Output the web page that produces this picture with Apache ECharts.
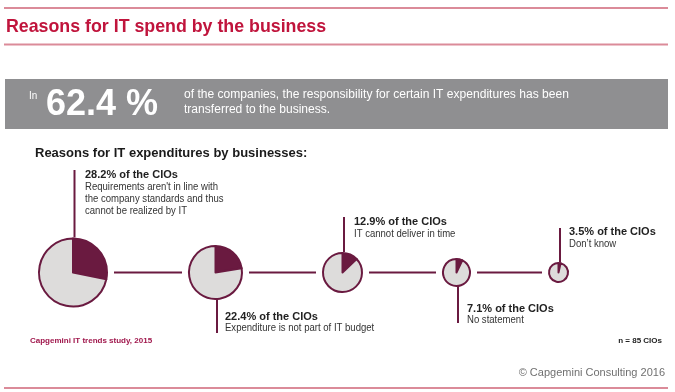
<!DOCTYPE html>
<html>
<head>
<meta charset="utf-8">
<script src="https://cdn.jsdelivr.net/npm/echarts@6/dist/echarts.min.js"></script>
<style>
html,body{margin:0;padding:0;background:#fff;}
#chart{width:675px;height:392px;}
</style>
</head>
<body>
<div id="chart"></div>
<script>
// ---- data ----
const titleText = "Reasons for IT spend by the business";
const headlinePrefix = "In";
const headlineValue = 62.4;
const headlineText = ["of the companies, the responsibility for certain IT expenditures has been", "transferred to the business."];
const subtitleText = "Reasons for IT expenditures by businesses:";
const categories = [
  ["Requirements aren't in line with", "the company standards and thus", "cannot be realized by IT"],
  ["Expenditure is not part of IT budget"],
  ["IT cannot deliver in time"],
  ["No statement"],
  ["Don\u2019t know"]
];
const shares = [28.2, 22.4, 12.9, 7.1, 3.5];
const sourceText = "Capgemini IT trends study, 2015";
const sampleText = "n = 85 CIOs";
const copyrightText = "\u00a9 Capgemini Consulting 2016";

// ---- layout (positions / sizes / styles) ----
const pieX = [73, 215.5, 342.5, 456.5, 558.5];
const pieY = 272.5;
const pieR = [34, 26.5, 19.5, 13.5, 9.5];
const labelAbove = [true, false, true, false, true];
const MAROON = '#6a1a40';
const GRAYFILL = '#dddcdb';
const FONT = "'Liberation Sans', Arial, sans-serif";

const chart = echarts.init(document.getElementById('chart'), null, {renderer: 'canvas'});

const graphics = [];
function line(x1, y1, x2, y2, color, w) {
  graphics.push({type: 'line', shape: {x1, y1, x2, y2}, style: {stroke: color, lineWidth: w}, silent: true});
}
function text(str, x, y, font, fill, align, sx) {
  graphics.push({type: 'text', x, y, scaleX: sx || 1, style: {text: str, font, fill, textAlign: align || 'left', textVerticalAlign: 'middle'}, silent: true});
}

// header rules + title
line(4, 8, 668, 8, '#db8b99', 2);
line(4, 44.5, 668, 44.5, '#db8b99', 2);
text(titleText, 6, 27, "bold 17.8px " + FONT, '#c0143c');

// banner
graphics.push({type: 'rect', shape: {x: 5, y: 79, width: 663, height: 50}, style: {fill: '#8f8f91'}, silent: true});
text(headlinePrefix, 29, 96, "11px " + FONT, '#ffffff', 'left', 0.9);
text(headlineValue.toFixed(1) + " %", 46, 105, "bold 36px " + FONT, '#ffffff');
text(headlineText[0], 184, 94.5, "12.5px " + FONT, '#ffffff', 'left', 0.965);
text(headlineText[1], 184, 109.5, "12.5px " + FONT, '#ffffff', 'left', 0.965);

// subtitle
text(subtitleText, 35, 153, "bold 13px " + FONT, '#1a1a1a');

// connectors between pies
for (let i = 0; i < pieX.length - 1; i++) {
  line(pieX[i] + pieR[i] + 7, pieY, pieX[i + 1] - pieR[i + 1] - 7, pieY, MAROON, 2);
}

// leader lines + labels
const labelTop = [175, 316.5, 222, 308.5, 232];
const lineEnd = [170, 333, 217, 323, 228];
const labelX = [85, 225, 354, 467, 569];
shares.forEach((v, i) => {
  const lx = pieX[i] + 1.5;
  if (labelAbove[i]) {
    line(lx, lineEnd[i], lx, pieY - pieR[i] - 1, MAROON, 2);
  } else {
    line(lx, pieY + pieR[i] + 1, lx, lineEnd[i], MAROON, 2);
  }
  text(v.toFixed(1) + "% of the CIOs", labelX[i], labelTop[i], "bold 11px " + FONT, '#222222');
  categories[i].forEach((c, k) => {
    text(c, labelX[i], labelTop[i] + 11.7 + k * 12.4, "10.5px " + FONT, '#333333', 'left', 0.91);
  });
});

// footer
text(sourceText, 30, 341, "bold 8px " + FONT, '#a0174c');
text(sampleText, 662, 341, "bold 8px " + FONT, '#222222', 'right');
text(copyrightText, 665, 373, "11px " + FONT, '#707070', 'right');
line(4, 388, 668, 388, '#db8b99', 2);

// pies
const series = shares.map((v, i) => ({
  type: 'pie',
  center: [pieX[i], pieY],
  radius: [0, pieR[i]],
  startAngle: 90,
  clockwise: true,
  silent: true,
  animation: false,
  label: {show: false},
  labelLine: {show: false},
  itemStyle: {borderColor: MAROON, borderWidth: 2},
  data: [
    {value: v, itemStyle: {color: MAROON}},
    {value: 100 - v, itemStyle: {color: GRAYFILL}}
  ]
}));

chart.setOption({
  animation: false,
  backgroundColor: '#ffffff',
  series: series,
  graphic: {elements: graphics}
});
</script>
</body>
</html>
